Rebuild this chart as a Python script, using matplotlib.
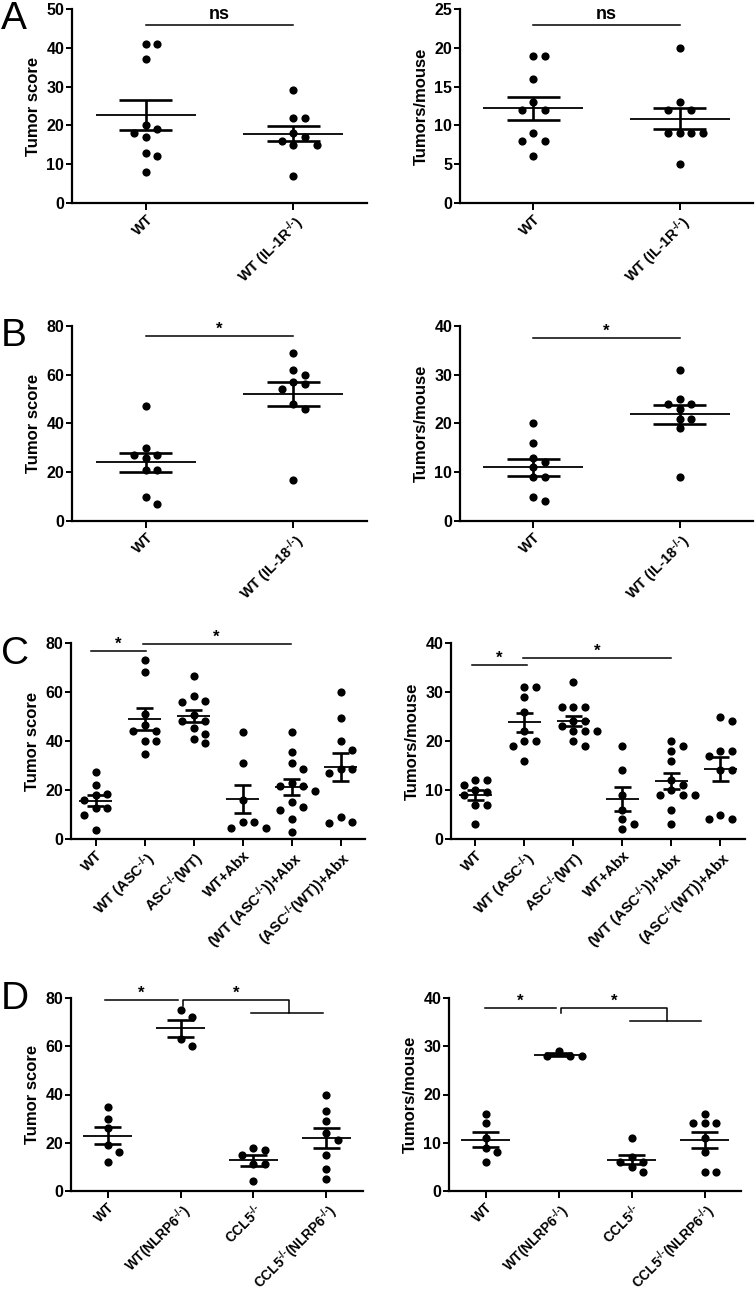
import numpy as np
import matplotlib.pyplot as plt

plt.rcParams['font.family'] = ['Liberation Sans', 'DejaVu Sans']
plt.rcParams['font.weight'] = 'bold'
plt.rcParams['mathtext.fontset'] = 'custom'
plt.rcParams['mathtext.rm'] = 'Liberation Sans:bold'
plt.rcParams['mathtext.default'] = 'rm'

W, H = 756, 1295
KO = r"$^{\text{-/-}}$"

# ---------------- data ----------------
a_labels = ["WT", "WT (IL-1R" + KO + ")"]
a_score = [[41, 41, 37, 20, 19, 18, 17, 13, 12, 8],
           [29, 22, 22, 18, 17, 16, 15, 15, 7]]
a_tumors = [[19, 19, 16, 13, 12, 12, 9, 8, 8, 6],
            [20, 13, 12, 12, 9, 9, 9, 9, 5]]

b_labels = ["WT", "WT (IL-18" + KO + ")"]
b_score = [[47, 30, 27, 27, 26, 21, 21, 10, 7],
           [69, 62, 60, 57, 56, 54, 48, 46, 17]]
b_tumors = [[20, 16, 13, 12, 11, 9, 9, 5, 4],
            [31, 25, 24, 24, 23, 21, 21, 19, 9]]

c_labels = ["WT", "WT (ASC" + KO + ")", "ASC" + KO + "(WT)", "WT+Abx",
            "(WT (ASC" + KO + "))+Abx", "(ASC" + KO + "(WT))+Abx"]
c_score = [[27.5, 22, 18.5, 18, 16, 12.5, 12.5, 10, 3.5],
           [73, 68, 51, 46.5, 44, 44, 40, 40, 34.5],
           [66.5, 58.5, 56.5, 56, 50.5, 48, 48, 45.5, 43, 41, 39],
           [43.5, 31, 16, 7, 7, 4.5, 4.5],
           [43.5, 35.5, 31, 28.5, 23, 21.5, 21.5, 19.5, 15, 13, 12, 8, 3],
           [60, 49.5, 40, 36.5, 28.5, 28.5, 27, 9, 7, 6.5]]
c_tumors = [[12, 12, 11, 10, 9.5, 9, 7, 7, 3],
            [31, 31, 29, 26, 22, 20, 20, 19, 16],
            [32, 27, 27, 27, 24, 24, 23, 22, 22, 22, 20, 19],
            [19, 14, 9, 6, 4, 3, 2],
            [20, 19, 18, 16, 12, 11, 10, 9, 9, 9, 6, 3],
            [25, 24, 18, 18, 17, 14, 14, 5, 4, 4]]

d_labels = ["WT", "WT(NLRP6" + KO + ")", "CCL5" + KO, "CCL5" + KO + "(NLRP6" + KO + ")"]
d_score = [[35, 30, 26, 19, 16, 12],
           [75, 72, 63, 60],
           [18, 17, 15, 11, 11, 4],
           [40, 33, 29, 24, 21, 15, 9, 5]]
d_tumors = [[16, 14, 11, 9, 8, 6],
            [29, 28, 28, 28],
            [11, 7, 6, 6, 5, 4],
            [16, 14, 14, 14, 11, 8, 4, 4]]

# significance bars: (from group, to group, height, text)
a_sig = [(0, 1, 45.9, "ns")]
a2_sig = [(0, 1, 22.9, "ns")]
b_sig = [(0, 1, 75.8, "*")]
b2_sig = [(0, 1, 37.6, "*")]
c_sig = [(-0.09, 1.03, 76.7, "*"), (0.96, 3.98, 79.6, "*")]
c2_sig = [(-0.08, 1.06, 35.6, "*"), (0.96, 4.0, 37.0, "*")]
d_sig = [(-0.03, 0.96, 79.1, "*")]
d2_sig = [(-0.01, 0.96, 37.9, "*")]
# bracket: (left, right, top, left foot, lower bar from, lower bar to, lower bar y)
d_bracket = (1.04, 2.49, 79.1, 76.6, 1.97, 2.95, 73.6)
d2_bracket = (1.04, 2.49, 38.0, 36.8, 1.98, 2.95, 35.3)


def px_rect(x0, y0, x1, y1):
    return [x0 / W, 1 - y1 / H, (x1 - x0) / W, (y1 - y0) / H]


def swarm(vals, xpx, ypx, step=11.7, diam=8.6):
    # simple greedy beeswarm in pixel space
    placed = []
    out = []
    for v in vals:
        for slot in [0, 1, -1, 2, -2, 3, -3]:
            ok = True
            for s, pv in placed:
                if np.hypot((slot - s) * step, (v - pv) * ypx) < diam:
                    ok = False
                    break
            if ok:
                break
        placed.append((slot, v))
        out.append(slot * step / xpx)
    return np.array(out)


def panel(rect, groups, labels, ymax, ystep, ylabel, sigs, bracket=None, xfs=10.5):
    ax = fig.add_axes(px_rect(*rect))
    n = len(groups)
    ax.set_xlim(-0.5, n - 0.5)
    ax.set_ylim(0, ymax)
    xpx = (rect[2] - rect[0]) / n
    ypx = (rect[3] - rect[1]) / ymax
    for i, g in enumerate(groups):
        g = np.array(g, dtype=float)
        xs = i + swarm(g, xpx, ypx)
        ax.plot(xs, g, 'o', color='black', ms=5.9, mew=0, clip_on=False, zorder=3)
        m = g.mean()
        sem = g.std(ddof=1) / np.sqrt(len(g))
        ax.hlines(m, i - 0.34, i + 0.34, color='black', lw=1.3, zorder=4)
        ax.hlines([m - sem, m + sem], i - 0.18, i + 0.18, color='black', lw=1.9, zorder=4)
        ax.vlines(i, m - sem, m + sem, color='black', lw=1.9, zorder=4)
    for x0, x1, y, txt in sigs:
        ax.plot([x0, x1], [y, y], color='black', lw=1.1, clip_on=False)
        if txt == "ns":
            ax.text((x0 + x1) / 2, y + ymax * 0.012, txt, ha='center', va='bottom',
                    fontsize=13, fontweight='bold')
        else:
            ax.text((x0 + x1) / 2, y - ymax * 0.005, txt, ha='center', va='bottom',
                    fontsize=12, fontweight='bold')
    if bracket is not None:
        l, r, top, foot, b0, b1, by = bracket
        ax.plot([l, l, r, r], [foot, top, top, by], color='black', lw=1.1, clip_on=False)
        ax.plot([b0, b1], [by, by], color='black', lw=1.1, clip_on=False)
        ax.text((l + r) / 2, top - ymax * 0.005, "*", ha='center', va='bottom',
                fontsize=12, fontweight='bold')
    ax.spines[['top', 'right']].set_visible(False)
    for s in ['left', 'bottom']:
        ax.spines[s].set_linewidth(1.6)
    ax.set_yticks(np.arange(0, ymax + 0.1, ystep))
    ax.set_xticks(range(n))
    ax.set_xticklabels(labels, rotation=45, ha='right', rotation_mode='anchor',
                       fontsize=xfs, fontweight='bold')
    ax.tick_params(axis='y', direction='out', length=4, width=1.4, labelsize=11.5, pad=1.5)
    ax.tick_params(axis='x', direction='out', length=5, width=1.4, pad=2)
    ax.set_ylabel(ylabel, fontsize=12, fontweight='bold', labelpad=4)
    return ax


fig = plt.figure(figsize=(W / 100, H / 100), dpi=100)

panel((72, 9, 367, 203), a_score, a_labels, 50, 10, "Tumor score", a_sig)
panel((460, 9, 753, 203), a_tumors, a_labels, 25, 5, "Tumors/mouse", a2_sig)
panel((72, 326, 367, 521), b_score, b_labels, 80, 20, "Tumor score", b_sig)
panel((460, 326, 753, 521), b_tumors, b_labels, 40, 10, "Tumors/mouse", b2_sig)
panel((71, 643, 365, 839), c_score, c_labels, 80, 20, "Tumor score", c_sig)
panel((451, 643, 745, 839), c_tumors, c_labels, 40, 10, "Tumors/mouse", c2_sig)
panel((71, 998, 363, 1191), d_score, d_labels, 80, 20, "Tumor score", d_sig, d_bracket, xfs=9.8)
panel((449, 998, 741, 1191), d_tumors, d_labels, 40, 10, "Tumors/mouse", d2_sig, d2_bracket, xfs=9.8)

# panel letters
for letter, ytop in zip("ABCD", [1, 318, 636, 981]):
    fig.text(1 / W, 1 - ytop / H, letter, fontsize=28, fontweight='normal',
             ha='left', va='top')

fig.savefig("out.png", dpi=100)
